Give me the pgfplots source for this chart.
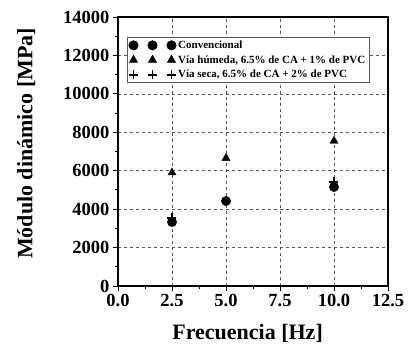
\documentclass[border=0pt]{standalone}
\usepackage{fontspec}
\setmainfont{Liberation Serif}
\usepackage{pgfplots}
\pgfplotsset{compat=1.18}
\begin{document}
\begin{tikzpicture}
\begin{axis}[
  width=270pt, height=269pt, scale only axis,
  xmin=0, xmax=12.5, ymin=0, ymax=14000,
  xtick={0,2.5,5,7.5,10,12.5},
  ytick={0,2000,4000,6000,8000,10000,12000,14000},
  minor x tick num=1, minor y tick num=1,
  xticklabel style={/pgf/number format/.cd,fixed,fixed zerofill,precision=1},
  yticklabel style={/pgf/number format/.cd,fixed,1000 sep={}},
  /pgf/number format/assume math mode=true,
  scaled y ticks=false,
  tick label style={font=\fontsize{18.5}{20}\selectfont\bfseries},
  xlabel={Frecuencia [Hz]},
  ylabel={Módulo dinámico [MPa]},
  every axis y label/.style={at={(axis description cs:-0.34,0.53)}, rotate=90, anchor=center, font=\fontsize{22}{24}\selectfont\bfseries},
  every axis x label/.style={at={(axis description cs:0.48,-0.175)}, anchor=center, font=\fontsize{22}{24}\selectfont\bfseries},
  xtick pos=left, ytick pos=left,
  tick align=outside,
  major tick length=5pt, minor tick length=3pt,
  axis line style={line width=1.2pt},
  every tick/.style={line width=0.9pt, black},
  grid=major,
  major grid style={dashed, gray!70!black, line width=0.6pt},
  legend style={at={(axis description cs:0,1)}, anchor=north west, xshift=9pt, yshift=-20pt,
    font=\fontsize{11}{13}\selectfont\bfseries, draw=gray!70!black, line width=0.6pt,
    row sep=1.5pt, inner sep=1.5pt},
  legend cell align=left,
  legend image code/.code={\draw[#1,mark repeat=1,mark phase=1] plot coordinates {(0pt,0pt) (19pt,0pt) (38pt,0pt)};},
]
\addplot[only marks, mark=*, mark size=4.7pt, black] coordinates {(2.5,3330) (5,4420) (10,5150)};
\addlegendentry{Convencional}
\addplot[only marks, mark=triangle*, mark size=4.7pt, black] coordinates {(2.5,5900) (5,6650) (10,7550)};
\addlegendentry{Vía húmeda, 6.5\% de CA + 1\% de PVC}
\addplot[only marks, mark=+, mark size=4.5pt, line width=1.8pt, mark options={line width=1.8pt}, black] coordinates {(2.5,3550) (5,4450) (10,5430)};
\addlegendentry{Vía seca, 6.5\% de CA + 2\% de PVC}
\path (rel axis cs:0,0) ++(-118pt,-69pt) coordinate (bl);
\path (rel axis cs:1,1) ++(20pt,17pt) coordinate (tr);
\end{axis}
\path (bl) rectangle (tr);
\end{tikzpicture}
\end{document}
